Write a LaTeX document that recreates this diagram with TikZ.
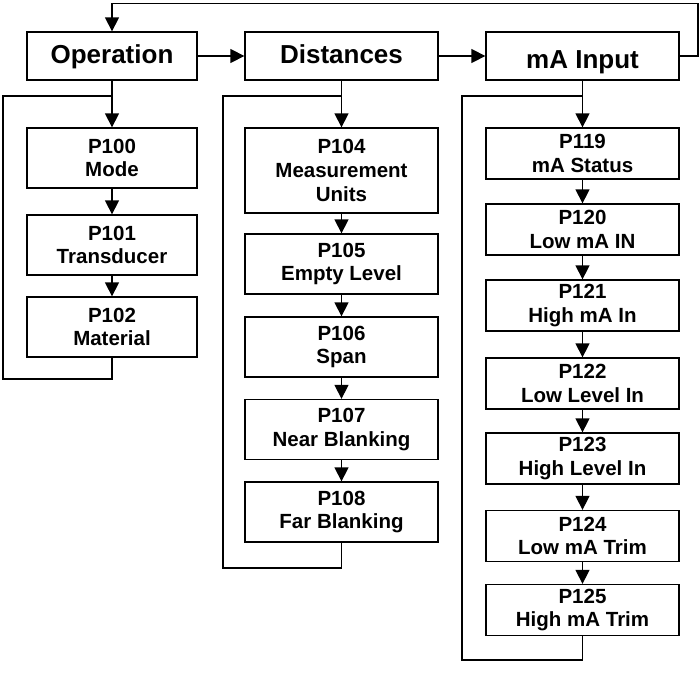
\documentclass[tikz,border=0pt]{standalone}
\usepackage{fontspec}
\setmainfont{Liberation Sans}
\usepackage{tikz}
\usetikzlibrary{arrows.meta}

\tikzset{
  menubox/.style={draw, line width=1.3pt, minimum height=48pt, inner sep=0pt,
    text height=19pt, text depth=5pt, font=\fontsize{26}{28}\selectfont\bfseries},
  parbox/.style={draw, line width=1.3pt, inner sep=0pt, align=center,
    font=\fontsize{20.5}{23.7}\selectfont\bfseries},
  flow/.style={line width=1.3pt, -{Triangle[width=14pt,length=14pt]}},
  backline/.style={line width=1.3pt}
}

\begin{document}
\begin{tikzpicture}[x=1pt,y=-1pt]
\useasboundingbox (0,0) rectangle (700,672);
% menus
\node[menubox, minimum width=170pt] (op) at (112,56) {Operation};
\node[menubox, minimum width=193pt] (dist) at (341.5,56) {Distances};
\node[menubox, minimum width=193pt, text height=29pt] (mai) at (582.5,56) {mA Input};
\draw[flow] (op.east) -- (dist.west);
\draw[flow] (dist.east) -- (mai.west);
\coordinate (fb) at (698,3.5);
\draw[flow] (mai.east) -| (fb) -| (op.north);
% parameters
\foreach \n/\y/\t in {p100/158/{P100\\Mode},p101/245/{P101\\Transducer},p102/327/{P102\\Material}}
    \node[parbox, minimum width=170pt, minimum height=60pt] (\n) at (112,\y) {\t};
\foreach \n/\y/\h/\t in {p104/170.5/85/{P104\\Measurement\\Units},p105/264/60/{P105\\Empty Level},
    p106/347/60/{P106\\Span},p107/429.5/60/{P107\\Near Blanking},p108/512/60/{P108\\Far Blanking}}
    \node[parbox, minimum width=193pt, minimum height=\h pt] (\n) at (341.5,\y) {\t};
\foreach \n/\y/\t in {p119/153.5/{P119\\mA Status},p120/229.5/{P120\\Low mA IN},p121/305.5/{P121\\High mA In},
    p122/383.5/{P122\\Low Level In},p123/458.5/{P123\\High Level In},p124/536/{P124\\Low mA Trim},
    p125/610/{P125\\High mA Trim}}
    \node[parbox, minimum width=193pt, minimum height=51pt] (\n) at (582.5,\y) {\t};
\foreach \a/\b in {op/p100,p100/p101,p101/p102,dist/p104,p104/p105,p105/p106,p106/p107,p107/p108,
    mai/p119,p119/p120,p120/p121,p121/p122,p122/p123,p123/p124,p124/p125}
    \draw[flow] (\a.south) -- (\b.north);
% back to the menu
\coordinate (c1) at (3,379);    \coordinate (j1) at (112,96);
\coordinate (c2) at (223,568);  \coordinate (j2) at (341.5,96);
\coordinate (c3) at (462,660);  \coordinate (j3) at (582.5,96);
\draw[backline] (p102.south) |- (c1) |- (j1);
\draw[backline] (p108.south) |- (c2) |- (j2);
\draw[backline] (p125.south) |- (c3) |- (j3);
\end{tikzpicture}
\end{document}
